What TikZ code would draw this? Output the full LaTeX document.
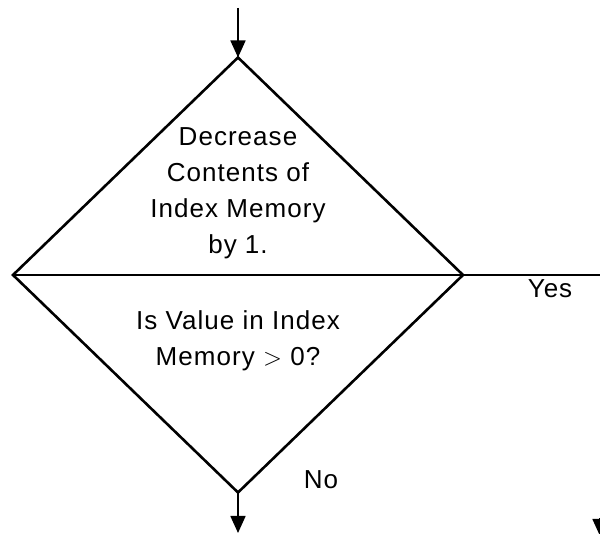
\documentclass[tikz,border=0pt]{standalone}
\usepackage{fontspec}
\newfontfamily\flowfont{Liberation Sans}[LetterSpace=4]
\usetikzlibrary{positioning,arrows.meta,shapes.geometric}

\begin{document}
\begin{tikzpicture}[x=1pt,y=1pt,
  every node/.style={font=\flowfont\fontsize{26}{36}\selectfont},
  decisionbox/.style={draw,diamond,line width=2.6pt,inner sep=0pt,outer sep=0pt,minimum width=450pt,minimum height=435pt},
  flow/.style={-{Triangle[width=15pt,length=17pt]},line width=1.6pt},
  label/.style={align=center,inner sep=0pt}
]
  \useasboundingbox (0,0) rectangle (600,534);
  \node[decisionbox] (dec) at (238,259) {};
  \node[label] (act) at (238,341) {Decrease\\Contents of\\Index Memory\\by 1.};
  \node[label] (test) at (238,193) {Is Value in Index\\Memory $>$ 0?};
  \node[label] (yes) at (550,245) {Yes};
  \node[label] (no) at (321,54) {No};
  \coordinate (in) at (238,526);
  \coordinate (out) at (238,1);
  \coordinate (yesend) at (600,259);
  \coordinate (yesdrop) at (600,-2);
  \draw[flow] (in) -- (dec.north);
  \draw[line width=1.6pt] (dec.west) -- (yesend);
  \draw[flow] (dec.south) -- (out);
  \draw[flow] ([yshift=18pt]yesdrop) -- (yesdrop);
\end{tikzpicture}
\end{document}
